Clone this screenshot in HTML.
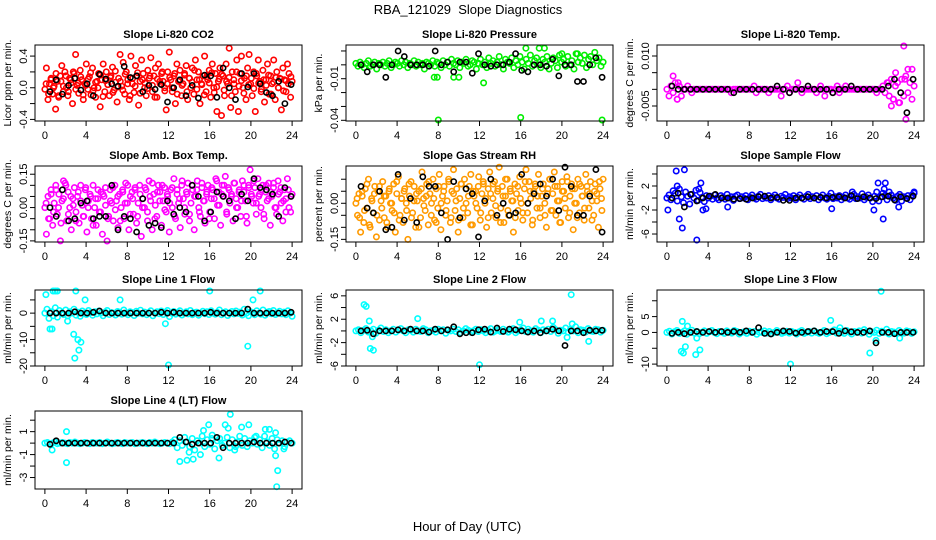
<!DOCTYPE html>
<html><head><meta charset="utf-8"><title>RBA_121029 Slope Diagnostics</title>
<style>
html,body{margin:0;padding:0;background:#fff;}
svg{display:block;font-family:"Liberation Sans",Arial,sans-serif;}
</style></head>
<body>
<svg id="chart" width="936" height="540" viewBox="0 0 936 540" xmlns="http://www.w3.org/2000/svg">
<rect x="0" y="0" width="936" height="540" fill="#fff"/>
<text x="468" y="14" text-anchor="middle" font-size="13">RBA_121029&#160; Slope Diagnostics</text>
<text x="467" y="531" text-anchor="middle" font-size="13">Hour of Day (UTC)</text>
</svg>
<script>
// ---------- data ----------
const xTicks = [0,4,8,12,16,20,24];

const co2Cloud = [-.02,.25,-.15,.05,.1,-.08,.02,-.27,.08,-.12,.15,.28,-.05,.2,.0,-.1,.12,.06,-.2,.18,.42,.03,-.07,.22,.1,-.15,.05,.3,-.02,.14,-.09,.25,.0,-.12,.08,.18,-.24,.1,.3,-.05,.2,.04,-.1,.15,.26,-.03,.07,-.18,.12,.42,.02,.32,-.08,.2,.1,-.15,.4,.05,-.06,.28,.15,-.22,.08,.35,.18,.0,-.1,.22,.12,.38,-.05,.15,.25,-.12,.3,.05,.18,.08,.0,-.28,.2,.45,.1,-.05,.15,-.2,.3,.08,.22,-.1,.05,.18,.28,-.15,.12,.0,.25,-.08,.35,.1,.2,-.2,.05,.15,.4,-.05,.1,.22,-.12,.3,.0,.18,-.3,.08,.25,-.35,.15,-.1,.3,.05,.5,-.25,.2,.1,-.05,.35,-.3,.18,.4,.0,.12,-.15,.25,.42,.05,-.1,.2,-.3,.15,.35,.08,-.02,.22,-.18,.1,.3,-.08,.15,.05,.35,-.15,.2,.0,.12,-.28,.25,.1,-.05,.3,.18,-.12,.08];
const co2Core = [.05,-.08,.12,.0,.18,-.1,.08,.02,.15,-.05,.1,.2,-.02,.06,.14,-.09,.03,.11,.19,-.04,.07,.0,.16,-.11,.09,.04,.13,-.06,.21,.01,.08,-.03,.17,.05,-.1,.12,.02,.19,-.07,.1,.06,-.01,.15,.03,-.12,.11,.08,.2,-.04,.05,.13,.0,.18,-.08,.09,.03,.16,-.05,.12,.07,.22,-.02,.1,.04,-.09,.14,.06,.19,-.06,.01,.11,.17,-.03,.08,.13,-.1,.05,.2,.02,.09,-.07,.15,.04,.12,-.01,.18,.06,-.05,.1,.03,.16,-.08,.07,.13,.0,.11,-.04,.09,.05,.14];
const co2Black = [-.05,.1,-.08,.03,.12,-.03,.05,-.1,.17,.11,.05,.02,.27,.13,.15,-.05,.03,-.02,.04,-.18,.0,.1,-.1,.03,-.13,.16,.15,-.12,.25,.0,-.15,.18,.01,.18,.05,-.06,-.1,.08,-.2,.04];

const presCloud = [.001,-.001,.002,.0,-.002,.001,.003,-.001,.0,.002,-.003,.001,.0,.002,-.001,.001,.003,-.002,.0,.002,.001,-.001,.003,.0,.002,-.002,.001,.0,.003,-.001,.002,.0,.001,-.003,.002,.001,.0,.003,-.001,.002,.001,-.002,.003,.0,.002,-.001,.004,.001,.0,.003,-.002,.002,.001,.004,-.001,.0,.003,.002,-.003,.001,.004,.0,.002,-.002,.005,.001,.003,-.001,.002,.006,.0,-.003,.004,.002,.001,.005,-.002,.003,.0,.006,.002,-.003,.004,.001,.007,-.001,.003,.005,.0,-.002,.004,.002,.006,-.003,.001,.005,.003,-.002,.007,.002,.004,-.001,.006,.0,.003,-.003,.008,.002,.005,.001,.007,-.002,.004,.006,.0,.009,.003,.005,-.001,.002];
const presOutX = [7.9,8.0,12.4,16.0,16.5,17.8,18.3,20.0,21.5,23.9,7.6,9.5,10.0];
const presOutY = [-.009,-.04,-.013,-.038,.012,.012,.012,.008,.008,-.04,-.009,-.009,-.009];
const presBlack = [.0,-.005,.0,.0,-.009,.0,.01,.006,.0,.0,.0,-.001,.01,.0,.002,-.005,.002,.002,-.006,.008,.0,-.001,.0,.0,.002,.008,-.004,-.005,.0,.0,-.001,.004,-.008,.0,.0,-.012,-.012,.0,.005,-.009];

const tempCloud = [.0,-.002,.001,-.001,.002,-.003,.001,-.002,.0,.0,.001,.0,-.001,.0,.0,.0,.0,.0,.0,.0,.0,.0,.0,.0,.0,.0,.0,.0,.0,.0,.0,-.001,.0,.0,.0,.0,.0,.0,.0,.0,.0,.0,.001,-.001,.0,.0,.0,.0,.0,-.001,.0,.0,.0,.0,.0,-.002,.0,.0,.001,-.001,.0,.0,.0,.002,.0,-.001,.0,.0,.0,.0,.0,.0,-.001,.0,.001,.0,-.002,.0,.0,.0,-.001,.0,.001,-.001,.0,.0,.001,.0,.0,.0,.0,.0,.0,.0,.0,.0,.0,.0,.0,.0,.0,-.001,.0,.0,.001,-.001,.002,-.002,.003,-.003,.001,.002,-.004,.003,-.002,.004,-.001,.002,-.003,.001];
const tempOutX = [0.6,1.0,1.1,21.8,22.2,22.5,23.0,23.2,23.4,23.8,23.1,22.0,21.5];
const tempOutY = [.004,-.003,.002,-.005,.005,-.004,.013,-.009,.006,.006,.003,-.003,.002];
const tempBlack = [.001,.0,.0,.0,.0,.0,.0,.0,.0,.0,-.001,.0,.0,.0,.0,.0,.0,.001,.0,-.001,.0,.0,.001,.0,.0,.0,-.001,.0,.0,.001,.0,.0,.0,.0,.0,.001,.003,-.001,-.007,.003];

const ambCloud = [.0,-.12,.05,-.05,.08,-.08,.02,.1,-.03,.06,-.15,.03,.12,.11,-.06,.07,.0,-.1,.04,.09,-.02,.05,-.07,.1,.01,-.04,.08,-.11,.03,.06,-.05,.1,.0,-.08,.04,-.02,.07,-.12,.05,.09,-.16,-.04,.08,.02,-.06,.1,.03,-.09,.06,.0,.08,-.05,.11,.02,-.1,.05,.07,-.03,.09,-.07,.02,.1,-.13,.04,.0,.08,-.06,.12,.03,-.1,.06,.01,-.04,.1,.07,-.08,.03,.09,-.02,.05,-.11,.08,.0,.13,-.05,.06,.02,-.09,.1,.04,-.03,.07,.11,-.06,.02,.08,-.1,.05,.12,.0,-.04,.09,.03,-.07,.06,.1,-.02,.04,.08,-.05,.13,.01,.07,-.08,.1,.05,.14,-.03,.09,.02,.06,-.06,.11,.04,.0,.08,-.04,.12,.07,.03,-.07,.1,.17,.05,.02,.09,-.03,.13,.06,.0,.1,-.05,.07,.03,.11,-.08,.05,.09,.0,-.03,.12,.07,.02,-.06,.08,.04,.13,.0,-.02,.06];
const ambCore = [.02,-.05,.06,-.02,.08,.0,-.07,.04,.1,-.03,.05,.01,-.06,.07,.03,-.04,.09,.0,.05,-.08,.04,.08,-.02,.06,.01,-.05,.03,.09,-.01,.05,-.06,.07,.02,.1,-.03,.04,.08,-.04,.06,.0,.09,-.02,.05,.11,-.05,.07,.03,.1,-.01,.06,.02,.09,-.04,.08,.04,.12,.0,.06,-.03,.1,.05,.08,-.02,.11,.03,.07,-.05,.09,.04,.12,.01,.06,.1,-.02,.08,.05,.11,.0,.07,.03,.1,-.04,.09,.06,.12,.02,.05,.08,-.03,.1,.04,.07,.11,.0,.06,.09,.03,-.02,.08,.05];
const ambBlack = [.0,-.04,.08,-.06,-.05,.02,.03,-.05,-.04,-.04,.1,-.1,-.04,-.05,-.11,.04,-.08,-.07,-.09,.03,-.03,.0,-.02,.1,.05,-.06,-.02,.07,.05,.03,-.05,.06,.03,.13,.09,.08,.06,-.04,.09,.05];

const rhCloud = [.0,-.05,.04,-.12,.03,-.08,.06,-.02,.1,-.1,.02,-.04,.07,-.14,.05,-.07,.01,.09,-.06,.03,-.1,.05,.0,-.03,.08,-.12,.04,.11,-.05,.02,-.08,.06,.0,-.15,.03,.09,-.04,.07,-.1,.01,.05,-.06,.13,.02,-.03,.08,-.09,.04,.0,.1,-.07,.06,-.02,.12,-.11,.03,.07,-.05,.01,.09,-.08,.05,.14,-.03,.06,-.12,.02,.08,-.06,.1,.0,-.04,.07,.12,-.09,.03,.05,-.02,.11,-.07,.04,.08,.0,-.1,.06,.13,-.04,.02,.09,-.06,.05,.15,-.02,.07,-.08,.03,.1,-.05,.06,.01,-.12,.08,.04,-.03,.11,.0,-.07,.06,.14,-.04,.09,.02,-.09,.05,.07,-.02,.12,-.06,.03,.08,.0,-.1,.06,.1,-.03,.04,.13,-.05,.07,.01,-.08,.09,.05,-.02,.11,-.06,.03,.08,-.11,.06,.0,.1,-.04,.07,.03,-.07,.12,.05,-.02,.09,.01,-.05,.08,.04,-.1,.06,.02,.1];
const rhCore = [.02,-.06,.05,-.03,.08,-.09,.01,.04,-.05,.07,-.02,.03,-.08,.06,.0,-.04,.09,-.07,.02,.05,-.03,.08,-.06,.01,.04,-.1,.06,-.01,.03,.09,-.05,.02,-.08,.07,.0,.05,-.03,.1,-.06,.04,.01,-.07,.08,-.02,.06,.03,-.09,.05,.0,.07,-.04,.09,.02,-.06,.04,.08,-.01,.06,-.08,.03,.1,-.03,.05,.01,-.06,.07,.02,-.04,.09,.0,.05,-.07,.08,.03,-.02,.06,-.05,.04,.1,-.03,.07,.01,-.08,.05,.02,.09,-.04,.06,.0,-.06,.08,.03,-.02,.07,.04,-.07,.05,.01,.09,-.03];
const rhBlack = [.07,-.02,-.04,.05,-.11,-.1,.12,-.07,.02,-.08,.11,.07,.07,-.04,-.15,.09,-.06,.06,.04,-.14,.01,.1,-.05,.0,-.05,-.04,.12,.0,.04,.08,.03,.1,-.03,.15,.07,-.05,-.05,.03,.14,-.12];

const flowCloud = [.0,.5,-.3,1.2,.8,-.5,1.5,.2,-.8,1.0,.3,-1.0,.6,.0,1.3,-.4,.9,.1,-.6,.4,.0,.3,-.2,.5,.0,-.3,.4,.1,-.2,.6,.0,.2,-.4,.3,.5,-.1,.2,.0,.4,-.3,.1,.5,.0,-.2,.3,.6,-.1,.2,.0,.4,-.3,.1,.5,.0,-.2,.3,.1,.6,-.1,.2,.0,.4,-.3,.1,.5,.0,-.2,.3,.6,-.1,.2,.0,.4,-.3,.1,.5,.0,-.2,.3,.8,-.1,.2,.0,.4,-.3,.1,.5,.0,-.2,.3,.6,-.1,.2,.0,.7,-.3,.1,.5,.0,-.6,.3,1.0,-.5,.2,.8,.4,-.3,1.0,.5,.0,-.4,.3,.6,-.5,.2,.0,.4,-.3,.5,.8];
const flowOutX = [0.1,0.9,1.0,1.7,1.2,1.5,2.9,3.3,3.1,3.5,3.8,5.9,16.0,20.1,20.5,21.0,21.2,21.1,22.5,24.0,18.0];
const flowOutY = [-2,4.5,2,4.7,-3.5,-5,-7,2.5,1.5,-2,-1.8,-1.5,-1.8,-2,2.5,-3.5,2.5,1.5,-1.5,1,1];
const flowBlack = [.0,.8,-1.5,.6,-.5,.0,.3,.6,.0,.0,-.2,-.1,-.2,.0,.2,.3,.0,.1,-.4,-.4,.0,.0,.2,.0,.1,.0,.1,.2,.0,.4,-.1,.2,.0,-.1,.2,.3,-.3,.2,-.1,.3];

const l1Cloud = [.0,1.5,-2,.5,-1,2,-1.5,1,.0,-.5,1.2,-1,.5,.0,1.5,-.8,.3,-1.2,.8,.0,-.5,1,.2,-.8,.5,-.3,.8,.0,-1,.4,1,-.5,.2,.0,-.7,.6,.3,-.4,1.2,.0,-.6,.5,.2,-.9,.7,.0,1.1,-.3,.4,-.6,.2,.9,-1,.0,.5,-.2,.8,-.5,.3,1,-1.3,.0,.6,-.4,.2,.9,-.7,.0,.5,-.3,1,-.6,.2,.4,-.8,.0,.7,-.2,.5,-.5,.9,.0,-.4,.3,1.2,-.6,.1,.5,-.9,.0,.6,-.3,.8,-.1,.4,-.7,1.5,.0,-1,.5,.2,-.6,.9,.0,-.4,1.2,-.8,.3,.6,-.2,1,-.5,.0,.7,-.3,.4,-.6,.9,.0,-1.2];
const l1OutX = [0.1,0.8,1.0,1.2,0.5,0.7,2.8,2.9,3.0,3.2,3.3,3.5,3.9,7.3,12.0,16.0,19.7,20.2,20.9,2.2,11.7];
const l1OutY = [7,12,14,15,-6,-6,-8,-17,9,-10,-14,-11,5,5,-23,13,-12.5,5,15,-3,-4];
const l1Black = [.0,.0,.0,.0,.5,.0,.0,.3,.8,.0,.0,.0,.0,.0,.0,.0,.0,.0,.3,.0,.3,.0,.0,.0,.0,.0,.3,.0,.0,.0,.0,.0,1.5,.0,.0,.0,.0,.0,.0,.3];

const l2Cloud = [.0,.2,-.3,.1,.4,-.2,.0,.3,-.4,.1,.5,-.1,.2,-.3,.0,.3,-.2,.1,.4,.0,-.3,.2,.1,-.2,.3,.0,-.1,.4,.2,-.3,.0,.1,-.2,.3,.0,.2,-.4,.1,.0,.3,-.1,.2,-.3,.0,.4,.1,-.2,.0,.3,-.1,.2,.0,-.3,.1,.4,-.2,.0,.2,-.1,.3,.0,-.2,.1,.4,-.3,.0,.2,.5,-.1,.3,.0,-.2,.4,.1,-.3,.2,.0,.3,-.1,.6,.2,-.4,.1,.0,.5,-.2,.3,.0,.7,-.3,.2,.1,-.2,.4,.0,-.1,.3,.2,-.2,.1];
const l2OutX = [0.8,1.0,1.3,1.4,1.7,6.0,12.0,15.9,18.0,19.1,20.5,20.9,22.6,1.6,21.0];
const l2OutY = [4.5,4.2,1.7,-3,-3.3,2.1,-5.8,1.5,1.7,1.7,-1.1,6.2,-1.8,-1,1.2];
const l2Black = [.0,.1,-.5,.0,.0,.0,.2,.0,.3,.0,.0,-.2,.3,.0,.2,.7,-.5,-.3,-.3,.2,.3,-.2,.5,-.1,.3,.2,.0,-.2,.0,-.3,.0,.3,.0,-2.5,.0,.0,-.3,.1,.0,.1];

const l3Cloud = [.0,.4,-.5,.2,.6,-.3,.0,.5,-.6,.1,.7,-.2,.3,-.4,.0,.5,-.3,.2,.6,.0,-.4,.3,.1,-.3,.5,.0,-.2,.6,.3,-.5,.0,.2,-.3,.4,.0,.3,-.6,.1,.0,.5,-.2,.3,-.4,.0,.6,.1,-.3,.0,.4,-.2,.3,.0,-.5,.2,.6,-.3,.0,.3,-.2,.5,.0,-.3,.1,.6,-.4,.0,.3,.8,-.2,.4,.0,-.3,.6,.1,-.5,.3,.0,.5,-.2,.9,.3,-.6,.2,.0,.7,-.3,.4,.0,1,-.5,.3,.1,-.3,.6,.0,-.2,.5,.3,-.3,.2];
const l3OutX = [1.4,1.5,1.6,1.8,2.0,2.8,3.2,2.9,12.0,15.9,19.7,20.3,20.8,22.6,16.8];
const l3OutY = [-6,3.5,-6.5,-4.5,2,-7,-5.5,-1.8,-10,3.8,-6.5,-2.5,13,-1.8,1.5];
const l3Black = [-.3,.0,-.4,.0,.3,.0,.3,.0,.3,.0,.3,.0,.5,.0,1.5,-.3,-.5,.0,.5,.3,-.2,.0,.3,.5,.0,.3,.3,-.3,.5,.2,.0,.0,.5,-3.3,.0,.0,-.4,.0,.0,.0];

const l4Cloud = [.0,.05,-.05,.0,.1,-.05,.0,.05,.0,-.05,.05,.0,.1,.0,-.05,.0,.05,.0,-.05,.05,.0,.0,.05,-.05,.0,.1,.0,-.05,.0,.05,.0,-.05,.05,.0,.0,.05,-.05,.0,.0,.05,.0,-.05,.05,.0,.1,.0,-.05,.0,.05,.0,-.05,.1,.3,-.4,.2,-.2,.5,.1,-.3,.4,-.6,.2,.0,.6,-.3,.3,-.1,.7,-.5,.2,.4,-.2,.0,.5,-.4,.3,-.6,.1,.6,-.2,.4,-.3,.2,.0,.5,-.1,.3,-.4,.6,.1,-.2,.4,-.5,.3,.0,.2,-.3,.1,.2,.0];
const l4OutX = [0.7,2.1,2.1,13.1,13.8,14.4,15.1,15.4,15.9,16.9,17.5,17.8,18.0,19.1,19.8,21.4,21.8,22.4,22.4,22.6,22.5,23.2,14.0,16.2,18.5,20.5];
const l4OutY = [-.6,1,-1.7,-1.6,-1.5,-1.4,-1,1.1,1.6,-1.3,1.6,1.3,2.5,1.4,1.6,1.2,1.2,.9,-1.1,-2.4,-3.8,-.5,-.8,.4,-.3,.6];
const l4Black = [-.1,.2,.0,.0,.0,.0,.0,.0,.0,.0,.0,.0,.0,.0,.0,.0,.0,.0,.0,.0,.0,.5,.1,-.1,.0,.0,.0,.5,-.4,.0,.0,.0,.0,.1,.0,.0,.0,.0,.1,.0];

// y-axis ticks and which ones carry printed labels
const co2Ticks=[-.4,-.2,0,.2,.4], co2Labels=["-0.4","","0.0","","0.4"];
const presTicks=[-.04,-.03,-.02,-.01,0,.01], presLabels=["-0.04","","","-0.01","",""];
const tempTicks=[-.005,0,.005,.01], tempLabels=["-0.005","","","0.010"];
const ambTicks=[-.15,-.1,-.05,0,.05,.1,.15], ambLabels=["-0.15","","","0.00","","","0.15"];
const rhTicks=[-.15,-.1,-.05,0,.05,.1], rhLabels=["-0.15","","","0.00","",""];
const flowTicks=[-6,-4,-2,0,2,4], flowLabels=["-6","","-2","","2",""];
const l1Ticks=[-20,-15,-10,-5,0,5], l1Labels=["-20","","-10","","0",""];
const l2Ticks=[-6,-4,-2,0,2,4,6], l2Labels=["-6","","-2","","2","","6"];
const l3Ticks=[-10,-5,0,5,10], l3Labels=["-10","","0","5",""];
const l4Ticks=[-3,-2,-1,0,1,2], l4Labels=["-3","","-1","","1",""];

// ---------- layout ----------
const colLeft=[35,346,657], boxW=267;
const rowTB=[[45,121],[166,242],[290,366],[411,489]];

const panels=[
 {name:"co2",title:"Slope Li-820 CO2",ylab:"Licor ppm per min.",col:0,row:0,ymin:-.42,ymax:.54,color:"#ff0000",cloud:co2Cloud,core:co2Core,ox:[],oy:[],black:co2Black,ticks:co2Ticks,labels:co2Labels},
 {name:"pressure",title:"Slope Li-820 Pressure",ylab:"kPa per min.",col:1,row:0,ymin:-.0405,ymax:.0143,color:"#00ee00",cloud:presCloud,core:[],ox:presOutX,oy:presOutY,black:presBlack,ticks:presTicks,labels:presLabels},
 {name:"temp",title:"Slope Li-820 Temp.",ylab:"degrees C per min.",col:2,row:0,ymin:-.0095,ymax:.0133,color:"#ff00ff",cloud:tempCloud,core:[],ox:tempOutX,oy:tempOutY,black:tempBlack,ticks:tempTicks,labels:tempLabels},
 {name:"amb-box-temp",title:"Slope Amb. Box Temp.",ylab:"degrees C per min.",col:0,row:1,ymin:-.155,ymax:.187,color:"#ff00ff",cloud:ambCloud,core:ambCore,ox:[],oy:[],black:ambBlack,ticks:ambTicks,labels:ambLabels},
 {name:"gas-rh",title:"Slope Gas Stream RH",ylab:"percent per min.",col:1,row:1,ymin:-.161,ymax:.155,color:"#ff9a00",cloud:rhCloud,core:rhCore,ox:[],oy:[],black:rhBlack,ticks:rhTicks,labels:rhLabels},
 {name:"sample-flow",title:"Slope Sample Flow",ylab:"ml/min per min.",col:2,row:1,ymin:-7.33,ymax:5.33,color:"#0000ff",cloud:flowCloud,core:[],ox:flowOutX,oy:flowOutY,black:flowBlack,ticks:flowTicks,labels:flowLabels},
 {name:"line1-flow",title:"Slope Line 1 Flow",ylab:"ml/min per min.",col:0,row:2,ymin:-20,ymax:8.75,color:"#00ffff",cloud:l1Cloud,core:[],ox:l1OutX,oy:l1OutY,black:l1Black,ticks:l1Ticks,labels:l1Labels},
 {name:"line2-flow",title:"Slope Line 2 Flow",ylab:"ml/min per min.",col:1,row:2,ymin:-6,ymax:7,color:"#00ffff",cloud:l2Cloud,core:[],ox:l2OutX,oy:l2OutY,black:l2Black,ticks:l2Ticks,labels:l2Labels},
 {name:"line3-flow",title:"Slope Line 3 Flow",ylab:"ml/min per min.",col:2,row:2,ymin:-10.6,ymax:13.4,color:"#00ffff",cloud:l3Cloud,core:[],ox:l3OutX,oy:l3OutY,black:l3Black,ticks:l3Ticks,labels:l3Labels},
 {name:"line4-flow",title:"Slope Line 4 (LT) Flow",ylab:"ml/min per min.",col:0,row:3,ymin:-4.0,ymax:2.8,color:"#00ffff",cloud:l4Cloud,core:[],ox:l4OutX,oy:l4OutY,black:l4Black,ticks:l4Ticks,labels:l4Labels}
];

const NS="http://www.w3.org/2000/svg";
const svg=document.getElementById("chart");
function mk(tag,attrs,parent){const e=document.createElementNS(NS,tag);for(const k in attrs)e.setAttribute(k,attrs[k]);(parent||svg).appendChild(e);return e;}

panels.forEach(p=>{
  const L=colLeft[p.col], T=rowTB[p.row][0], B=rowTB[p.row][1];
  const g=mk("g",{});
  
  
  const xs=h=>L+(h+0.96)/25.92*boxW;
  const ys=v=>B-(v-p.ymin)/(p.ymax-p.ymin)*(B-T);
  const clip=v=>Math.max(T+1,Math.min(B-1,v));
  const pts=mk("g",{fill:"none","stroke-width":"1.6"},g);
  
  
  const n=p.cloud.length;
  p.cloud.forEach((v,i)=>{
    const c=mk("circle",{cx:xs(i*24/(n-1)).toFixed(1),cy:clip(ys(v)).toFixed(1),r:"2.7",stroke:p.color},pts);
    
    
  });
  const nc=p.core.length;
  p.core.forEach((v,i)=>{
    const c=mk("circle",{cx:xs((i+0.5)*24/nc).toFixed(1),cy:clip(ys(v)).toFixed(1),r:"2.7",stroke:p.color},pts);
    
    
  });
  p.ox.forEach((h,i)=>{
    const c=mk("circle",{cx:xs(h).toFixed(1),cy:clip(ys(p.oy[i])).toFixed(1),r:"2.7",stroke:p.color},pts);
    
    
  });
  const m=p.black.length;
  p.black.forEach((v,i)=>{
    const c=mk("circle",{cx:xs(0.5+i*23.4/(m-1)).toFixed(1),cy:clip(ys(v)).toFixed(1),r:"2.6",stroke:"#000"},pts);
    
    
  });
  const box=mk("rect",{x:L,y:T,width:boxW,height:B-T,fill:"none",stroke:"#000","stroke-width":"1"},g);
  
  
  xTicks.forEach(h=>{
    const x=xs(h);
    const t=mk("line",{x1:x,x2:x,y1:B,y2:B+5,stroke:"#000"},g);
    
    
    const lb=mk("text",{x:x,y:B+18,"text-anchor":"middle","font-size":"11"},g);
    
    
    lb.textContent=h;
  });
  p.ticks.forEach((v,i)=>{
    const y=ys(v);
    const t=mk("line",{x1:L-5,x2:L,y1:y,y2:y,stroke:"#000"},g);
    
    
    if(p.labels[i]){
      const lb=mk("text",{x:0,y:0,"text-anchor":"middle","font-size":"11",transform:`translate(${L-8},${y.toFixed(1)}) rotate(-90)`},g);
      
      
      lb.textContent=p.labels[i];
    }
  });
  const tt=mk("text",{x:L+boxW/2,y:T-7,"text-anchor":"middle","font-size":"11","font-weight":"bold"},g);
  
  
  tt.textContent=p.title;
  const yl=mk("text",{x:0,y:0,"text-anchor":"middle","font-size":"10.5",transform:`translate(${L-24},${(T+B)/2}) rotate(-90)`},g);
  
  
  yl.textContent=p.ylab;
});
</script>
</body></html>
